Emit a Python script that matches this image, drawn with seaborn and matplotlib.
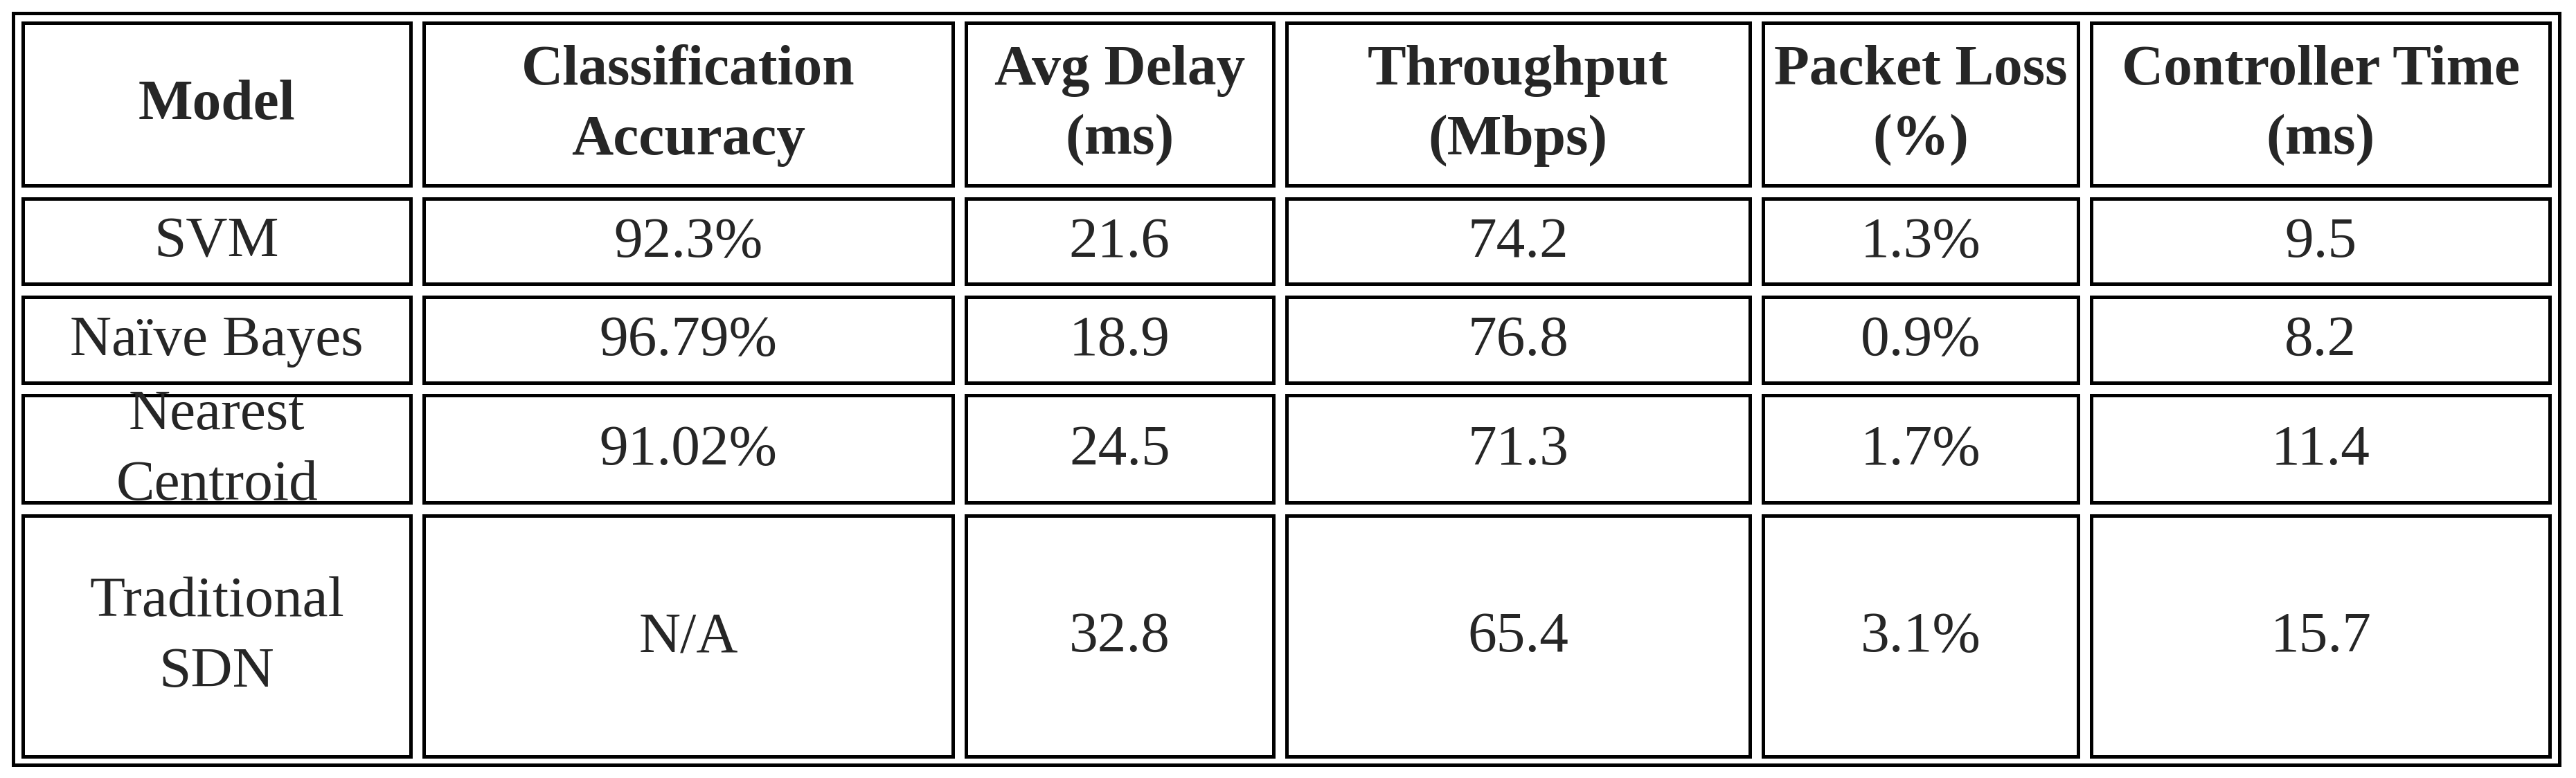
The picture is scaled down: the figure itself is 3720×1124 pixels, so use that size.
import matplotlib
matplotlib.use("Agg")
import matplotlib.pyplot as plt
import seaborn as sns
from matplotlib.patches import Rectangle

sns.set_style("white")
plt.rcParams["font.family"] = ["Liberation Serif", "DejaVu Serif"]

headers = ["Model", "Classification\nAccuracy", "Avg Delay\n(ms)", "Throughput\n(Mbps)", "Packet Loss\n(%)", "Controller Time\n(ms)"]
models = ["SVM", "Naïve Bayes", "Nearest\nCentroid", "Traditional\nSDN"]
accuracy = ["92.3%", "96.79%", "91.02%", "N/A"]
avg_delay = [21.6, 18.9, 24.5, 32.8]
throughput = [74.2, 76.8, 71.3, 65.4]
packet_loss = ["1.3%", "0.9%", "1.7%", "3.1%"]
ctrl_time = [9.5, 8.2, 11.4, 15.7]

# layout in a 1568 x 474 reference frame
col_edges = [(14, 250), (258, 580), (588, 775), (783, 1065), (1073, 1265), (1273, 1552)]
row_edges = [(14, 113), (121, 173), (181, 233), (241, 306), (314, 461)]

rows = [headers] + [
    [models[i], accuracy[i], f"{avg_delay[i]}", f"{throughput[i]}", packet_loss[i], f"{ctrl_time[i]}"]
    for i in range(len(models))
]

fig = plt.figure(figsize=(37.2, 11.24), dpi=100)
ax = fig.add_axes([0, 0, 1, 1])
ax.set_xlim(0, 1568)
ax.set_ylim(474, 0)
ax.axis("off")

lw = 3.6
ax.add_patch(Rectangle((8, 8), 1550, 458, fill=False, lw=lw, ec="black"))
for r, (y0, y1) in enumerate(row_edges):
    for c, (x0, x1) in enumerate(col_edges):
        ax.add_patch(Rectangle((x0, y0), x1 - x0, y1 - y0, fill=False, lw=lw, ec="black"))
        ax.text((x0 + x1) / 2, (y0 + y1) / 2 + 1, rows[r][c], ha="center", va="center",
                fontsize=60, fontweight="bold" if r == 0 else "normal", linespacing=1.45)

fig.savefig("out.png", dpi=100, facecolor="white")
